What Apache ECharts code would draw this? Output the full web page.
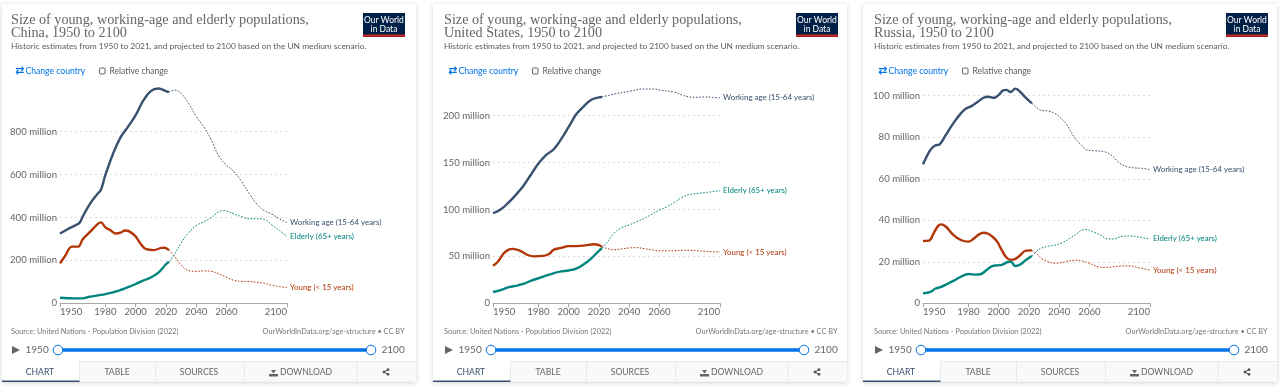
<!DOCTYPE html>
<html><head><meta charset="utf-8">
<style>html,body{margin:0;padding:0;background:#fff}#c{width:1280px;height:388px}</style>
<script src="https://cdn.jsdelivr.net/npm/echarts@6/dist/echarts.min.js"></script>
</head><body><div id="c"></div>
<script>
const xTicks=[1950,1980,2000,2020,2040,2060,2100];
const tabNames=['CHART','TABLE','SOURCES','DOWNLOAD'];
const seriesLabels={w:'Working age (15-64 years)',e:'Elderly (65+ years)',y:'Young (< 15 years)'};

const chinaWorkHist=[[1950,325],[1955,345],[1960,363],[1963,376],[1965,404],[1970,466],[1975,512],[1977,528],[1980,598],[1985,696],[1990,773],[1995,823],[2000,877],[2005,944],[2010,989],[2015,1001],[2020,989],[2022,984]];
const chinaWorkProj=[[2022,984],[2026,994],[2030,978],[2035,932],[2040,870],[2045,823],[2050,761],[2055,686],[2060,644],[2065,613],[2070,567],[2075,512],[2080,463],[2085,432],[2090,415],[2095,394],[2100,376]];
const chinaEldHist=[[1950,26],[1960,23],[1965,23],[1970,31],[1975,37],[1980,43],[1985,51],[1990,62],[1995,75],[2000,90],[2005,106],[2010,120],[2015,143],[2020,182],[2022,194]];
const chinaEldProj=[[2022,194],[2025,222],[2030,280],[2035,329],[2040,362],[2045,380],[2050,399],[2055,427],[2058,433],[2060,430],[2065,416],[2070,404],[2075,394],[2080,394],[2085,391],[2090,365],[2095,339],[2100,311]];
const chinaYoungHist=[[1950,186],[1953,217],[1958,264],[1962,264],[1965,298],[1970,334],[1975,370],[1977,377],[1980,354],[1983,342],[1987,325],[1990,329],[1993,339],[1996,334],[2000,311],[2003,280],[2007,252],[2012,248],[2017,258],[2019,259],[2022,248]];
const chinaYoungProj=[[2022,248],[2025,225],[2030,179],[2035,152],[2040,149],[2045,151],[2050,149],[2055,137],[2060,121],[2065,107],[2070,102],[2075,101],[2080,98],[2085,93],[2090,84],[2095,78],[2100,73]];

const usWorkHist=[[1950,96],[1955,100],[1960,107],[1965,115.5],[1970,125],[1975,137],[1980,149],[1985,158],[1990,164],[1995,175],[2000,188],[2005,201.5],[2010,210],[2015,217],[2020,219.6],[2022,220]];
const usWorkProj=[[2022,220],[2030,223],[2040,226],[2050,228.5],[2055,228.5],[2060,227.4],[2070,225],[2075,222],[2080,220],[2085,219.6],[2090,220],[2095,219.6],[2100,219]];
const usEldHist=[[1950,12],[1955,14],[1960,17],[1965,18.5],[1970,20.6],[1975,24],[1980,26.7],[1985,29.5],[1990,32],[1995,34],[2000,35],[2005,37],[2010,41.6],[2015,48],[2020,56],[2022,58.6]];
const usEldProj=[[2022,58.6],[2025,64],[2030,74.6],[2035,80.7],[2040,83.5],[2045,87],[2050,90.6],[2055,95],[2060,99.5],[2065,103],[2070,107.7],[2075,113],[2080,116],[2085,117],[2090,118],[2095,119],[2100,120]];
const usYoungHist=[[1950,40],[1953,44],[1957,53],[1960,57],[1963,58],[1968,56],[1973,51.5],[1977,50],[1983,50.5],[1987,52.6],[1990,57],[1995,59],[2000,61],[2005,61],[2010,61.5],[2017,63],[2020,62],[2022,60.4]];
const usYoungProj=[[2022,60.4],[2025,58.6],[2030,57],[2035,58],[2040,59],[2045,59.3],[2050,58.3],[2055,57],[2060,56],[2065,56],[2070,56],[2075,56.5],[2080,56.5],[2085,56],[2090,55.5],[2095,55],[2100,54.7]];

const ruWorkHist=[[1950,67],[1953,71.5],[1955,74],[1958,76],[1961,76.6],[1965,81],[1970,86.7],[1975,91.5],[1978,93.6],[1982,95],[1986,97],[1990,99],[1993,99.5],[1997,99],[2000,100.4],[2003,102.6],[2005,102.8],[2008,101.8],[2011,103.4],[2014,102],[2018,99],[2022,96.3]];
const ruWorkProj=[[2022,96.3],[2025,94.4],[2028,93],[2033,92.6],[2037,91.5],[2040,90],[2045,86],[2050,80],[2055,76],[2058,74],[2063,73.5],[2070,73],[2075,71],[2080,67.4],[2085,65.8],[2090,65.2],[2095,65],[2100,64.4]];
const ruEldHist=[[1950,4.8],[1955,5.5],[1958,7],[1962,7.9],[1966,9.3],[1970,10.8],[1975,12.8],[1980,14.1],[1985,13.8],[1988,14],[1992,16],[1995,17.7],[1999,18.3],[2002,18.5],[2006,19.9],[2008,20],[2011,18],[2014,18.6],[2018,20.9],[2022,22.8]];
const ruEldProj=[[2022,22.8],[2025,25],[2028,26.5],[2033,27.5],[2037,28],[2042,29.2],[2047,31.3],[2052,33.7],[2055,35.3],[2058,35.5],[2062,34.5],[2067,33],[2072,31],[2076,31],[2082,32.3],[2087,32.4],[2092,32],[2100,31]];
const ruYoungHist=[[1950,30],[1954,30.2],[1957,33.7],[1960,37.3],[1962,38],[1965,37],[1970,33],[1975,30.5],[1980,29.7],[1983,30.8],[1987,33.2],[1990,34],[1993,33.5],[1996,32],[1999,29.7],[2002,25.7],[2005,22.2],[2008,20.9],[2011,21.4],[2014,23],[2018,25.4],[2022,25.5]];
const ruYoungProj=[[2022,25.5],[2025,24],[2028,21.7],[2033,20],[2037,19.3],[2040,19.4],[2045,20.2],[2050,20.7],[2055,20.4],[2060,19.3],[2065,17.7],[2070,17.3],[2075,17.5],[2082,18],[2087,18],[2092,17.2],[2100,16]];

const panels=[
 {name:'China',off:0,card:2,axisX:60,yMax:1000,yInt:200,yPx:214.6,w:[chinaWorkHist,chinaWorkProj],e:[chinaEldHist,chinaEldProj],y:[chinaYoungHist,chinaYoungProj]},
 {name:'United States',off:433,card:433,axisX:493,yMax:250,yInt:50,yPx:234.5,w:[usWorkHist,usWorkProj],e:[usEldHist,usEldProj],y:[usYoungHist,usYoungProj]},
 {name:'Russia',off:863,card:863,axisX:923,yMax:120,yInt:20,yPx:249.1,w:[ruWorkHist,ruWorkProj],e:[ruEldHist,ruEldProj],y:[ruYoungHist,ruYoungProj]}
];
const colors={w:'#39506f',e:'#00847e',y:'#b13507'};
const grey='#5b5b5b',lato='Lato',blue='#0073e6';
const axisY=303.3;

const grids=[],xAxes=[],yAxes=[],series=[],g=[];
function txt(x,y,t,o={}){g.push({type:'text',x,y,silent:true,z:o.z||10,style:{text:t,fill:o.c||grey,font:(o.w||'normal')+' '+(o.s||10)+'px '+(o.f||lato),textAlign:o.a||'left',textVerticalAlign:'middle'}});}
function rect(x,y,w,h,fill,o={}){g.push({type:'rect',silent:true,z:o.z||5,shape:{x,y,width:w,height:h,r:o.r||0},style:Object.assign({fill},o.style||{})});}

panels.forEach((p,i)=>{
 const o=p.off,c=p.card;
 rect(c,4,414,377.5,'#fff',{z:-1,style:{shadowBlur:5,shadowColor:'rgba(0,0,0,0.18)',shadowOffsetY:1}});
 txt(o+11,20,'Size of young, working-age and elderly populations,',{f:'"Liberation Serif"',s:14.2,c:'#666'});
 txt(o+11,33,p.name+', 1950 to 2100',{f:'"Liberation Serif"',s:14.2,c:'#666'});
 txt(o+11,46,'Historic estimates from 1950 to 2021, and projected to 2100 based on the UN medium scenario.',{s:8.4});
 rect(o+363,13,42,24,'#002147');
 rect(o+363,34.5,42,2.2,'#ce261e',{z:6});
 txt(o+384,20,'Our World',{c:'#fff',s:8.5,a:'center'});
 txt(o+384,29,'in Data',{c:'#fff',s:8.5,a:'center'});
 txt(o+15,71,'⇄',{f:'"DejaVu Sans"',c:blue,s:11,w:'bold'});
 txt(o+25.5,71,'Change country',{c:blue,s:8.6});
 g.push({type:'rect',silent:true,z:6,shape:{x:o+99.5,y:68,width:5.5,height:6,r:1},style:{fill:'#fff',stroke:'#666',lineWidth:1}});
 txt(o+109.5,71,'Relative change',{s:8.5});
 txt(o+11,332,'Source: United Nations - Population Division (2022)',{s:7.4,c:'#777'});
 txt(o+404.5,332,'OurWorldInData.org/age-structure • CC BY',{s:7.4,c:'#777',a:'right'});
 // timeline
 g.push({type:'polygon',silent:true,z:6,shape:{points:[[o+12,346],[o+20,350],[o+12,354]]},style:{fill:'#666'}});
 txt(o+25.5,350,'1950',{s:10,c:'#666'});
 txt(o+381.5,350,'2100',{s:10,c:'#666'});
 rect(o+58,348.2,313,3.6,blue);
 [58,371].forEach(h=>g.push({type:'circle',silent:true,z:7,shape:{cx:o+h,cy:350,r:4.8},style:{fill:'#fff',stroke:blue,lineWidth:1}}));
 // tabs
 rect(c+77,361,337,20.5,'#f7f9fb');
 [77,153,242,354.5].forEach(d=>rect(c+d,361,1,20.5,'#e7eaed',{z:6}));
 rect(c+77,361,337,1,'#e7eaed',{z:6});
 rect(c,380.5,77.5,1.5,'#39506f',{z:7});
 txt(c+38,372,tabNames[0],{s:8.6,c:'#39506f',a:'center'});
 txt(c+115,372,tabNames[1],{s:8.6,c:'#666',a:'center'});
 txt(c+197,372,tabNames[2],{s:8.6,c:'#666',a:'center'});
 txt(c+304,372,tabNames[3],{s:8.6,c:'#666',a:'center'});
 rect(c+267,374,9,2.5,'#666',{z:6});
 g.push({type:'polygon',silent:true,z:6,shape:{points:[[c+269,370],[c+274,370],[c+271.5,373.5]]},style:{fill:'#666'}});
 g.push({type:'polyline',silent:true,z:6,shape:{points:[[c+386,369.7],[c+382,372],[c+386,374.3]]},style:{stroke:'#555',fill:'none',lineWidth:1}});
 [[386,369.7],[382,372],[386,374.3]].forEach(a=>g.push({type:'circle',silent:true,z:7,shape:{cx:c+a[0],cy:a[1],r:1.4},style:{fill:'#555'}}));

 // chart
 grids.push({left:p.axisX,width:227,top:axisY-p.yPx,height:p.yPx});
 xAxes.push({type:'value',gridIndex:i,min:1950,max:2100,
  axisLine:{show:true,onZero:false,lineStyle:{color:'#a9a9a9',width:1}},
  axisTick:{show:true,length:4,customValues:xTicks,lineStyle:{color:'#a9a9a9'}},
  splitLine:{show:false},
  axisLabel:{customValues:xTicks,margin:4,color:'#666',fontFamily:lato,fontSize:9.6,alignMinLabel:'left',alignMaxLabel:'right',formatter:v=>String(v)}});
 yAxes.push({type:'value',gridIndex:i,min:0,max:p.yMax,interval:p.yInt,
  axisLine:{show:false},axisTick:{show:false},
  splitLine:{show:true,showMinLine:false,showMaxLine:false,lineStyle:{color:'#dddddd',type:[2,3],width:1}},
  axisLabel:{margin:3,color:'#666',fontFamily:lato,fontSize:9.6,showMaxLabel:false,
   formatter:v=>v===0?'0':v+' million'}});
 ['w','y','e'].forEach(k=>{
  series.push({type:'line',xAxisIndex:i,yAxisIndex:i,data:p[k][0],smooth:0.4,showSymbol:false,clip:false,
    lineStyle:{color:colors[k],width:2.4},silent:true,z:4});
  series.push({type:'line',xAxisIndex:i,yAxisIndex:i,data:p[k][1],smooth:0.4,showSymbol:false,clip:false,
    lineStyle:{color:colors[k],width:1,type:[1.6,1.6]},silent:true,z:3,
    endLabel:{show:true,formatter:seriesLabels[k],color:colors[k],fontFamily:lato,fontSize:7.9,distance:3}});
 });
});

const chart=echarts.init(document.getElementById('c'),null,{renderer:'canvas'});
chart.setOption({animation:false,backgroundColor:'#fff',grid:grids,xAxis:xAxes,yAxis:yAxes,series,graphic:{elements:g}});
</script></body></html>
